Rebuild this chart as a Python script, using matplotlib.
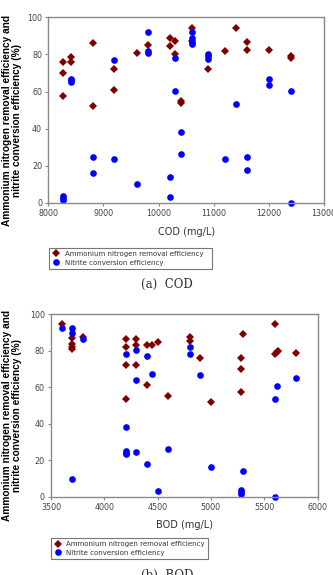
import numpy as np
import matplotlib
matplotlib.use("Agg")
import matplotlib.pyplot as plt

# (a) COD vs efficiency
cod_nh4 = [8260, 8260, 8260, 8410, 8410, 8810, 8810, 9200, 9200, 9600, 9800,
           10200, 10200, 10300, 10300, 10400, 10400, 10600, 10600, 10900,
           11200, 11400, 11600, 11600, 12000, 12400, 12400]
eff_nh4_cod = [76, 70, 57.5, 78.5, 76, 86, 52, 72, 61, 81, 85,
               89, 84.5, 87, 80, 55, 54, 94.5, 87.5, 72,
               82, 94.5, 86.5, 82.5, 82.5, 79, 78]
cod_no2 = [8260, 8260, 8260, 8410, 8410, 8410, 8810, 8810, 9200, 9200, 9600,
           9800, 9800, 9800, 10200, 10200, 10300, 10300, 10400, 10400,
           10600, 10600, 10600, 10600, 10900, 10900, 10900, 11200, 11400,
           11600, 11600, 12000, 12000, 12400, 12400]
eff_no2_cod = [4, 2.5, 1.5, 67, 66, 65, 25, 16, 77, 23.5, 10,
               92, 82, 81, 14, 3.5, 78, 60.5, 38, 26.5,
               92, 89, 86.5, 85.8, 80.5, 79, 77.5, 23.5, 53.5,
               25, 18, 67, 63.7, 60.5, 0]

# (b) BOD vs efficiency
bod_nh4 = [3600, 3700, 3700, 3700, 3700, 3800, 4200, 4200, 4200, 4200,
           4300, 4300, 4300, 4400, 4400, 4450, 4500, 4600, 4800, 4800,
           4900, 5000, 5280, 5280, 5280, 5300, 5600, 5600, 5620, 5630, 5800]
eff_nh4_bod = [94.7, 86.8, 83.5, 82, 81, 87.3, 86.5, 82, 72.3, 53.8,
               86.5, 83, 72, 83, 61, 83, 85, 55, 87.5, 85.5,
               76, 52, 76, 70, 57.3, 89.2, 94.7, 78.5, 79.5, 80, 78.6]
bod_no2 = [3600, 3700, 3700, 3700, 3800, 4200, 4200, 4200, 4200, 4200,
           4300, 4300, 4300, 4400, 4400, 4450, 4500, 4600, 4800, 4800,
           4900, 5000, 5280, 5280, 5280, 5300, 5600, 5600, 5620, 5800]
eff_no2_bod = [92.3, 92.3, 89.5, 9.7, 86.2, 78, 38, 25, 24.2, 23.2,
               80.3, 64, 24.7, 77.2, 17.7, 67, 3.3, 26.3, 81.8, 78.2,
               66.7, 16.1, 3.6, 2.4, 1.3, 14, 53.7, 0, 60.7, 65.2]

W, H = 333, 575
fig = plt.figure(figsize=(W / 100, H / 100), dpi=100)

red = "#800000"
blue = "#0000FF"
ylab = "Ammonium nitrogen removal efficiency and\nnitrite conversion efficiency (%)"


def make_panel(box, x1, y1, x2, y2, xlim, xticks, xlabel, caption, cap_y, leg_box):
    l, t, r, b = box
    ax = fig.add_axes([l / W, 1 - b / H, (r - l) / W, (b - t) / H])
    ax.plot(x1, y1, linestyle="none", marker="D", markersize=4.4, color=red,
            markeredgewidth=0, clip_on=False,
            label="Ammonium nitrogen removal efficiency")
    ax.plot(x2, y2, linestyle="none", marker="o", markersize=4.8, color=blue,
            markeredgewidth=0, clip_on=False, label="Nitrite conversion efficiency")
    ax.set_xlim(*xlim)
    ax.set_ylim(0, 100)
    ax.set_xticks(xticks)
    ax.set_yticks(range(0, 101, 20))
    ax.tick_params(labelsize=5.8, labelcolor="#444444", color="#888888",
                   length=2.5, width=0.8, pad=2)
    for s in ax.spines.values():
        s.set_color("#8a8a8a")
        s.set_linewidth(1.0)
    ax.set_xlabel(xlabel, fontsize=7, color="#333333", labelpad=6)
    fig.text(12 / W, 1 - ((t + b) / 2 + 10) / H, ylab, rotation=90, ha="center",
             va="center", fontsize=7.3, fontweight="bold",
             family="Liberation Sans", linespacing=0.95)
    lx0, ly0, lx1, ly1 = leg_box
    ax.legend(loc="lower left",
              bbox_to_anchor=(lx0 / W, 1 - ly1 / H, (lx1 - lx0) / W, (ly1 - ly0) / H),
              bbox_transform=fig.transFigure, mode="expand", fontsize=5,
              frameon=True, fancybox=False, edgecolor="#555555",
              borderaxespad=0, handletextpad=0.6, labelspacing=0.4,
              borderpad=0.45, handlelength=1.2, labelcolor="#333333")
    ax.get_legend().get_frame().set_linewidth(0.8)
    fig.text(167 / W, 1 - cap_y / H, caption, ha="center", va="center",
             fontsize=8.5, family="DejaVu Serif", color="#333333")
    return ax


make_panel((48.3, 17.3, 324, 203), cod_nh4, eff_nh4_cod, cod_no2, eff_no2_cod,
           (8000, 13000), range(8000, 13001, 1000), "COD (mg/L)",
           "(a)  COD", 284, (49, 241.7, 212, 268.7))
make_panel((51, 314.3, 317.5, 496.7), bod_nh4, eff_nh4_bod, bod_no2, eff_no2_bod,
           (3500, 6000), range(3500, 6001, 500), "BOD (mg/L)",
           "(b)  BOD", 575, (50.7, 535.7, 208, 559))

fig.savefig("out.png", dpi=100)
